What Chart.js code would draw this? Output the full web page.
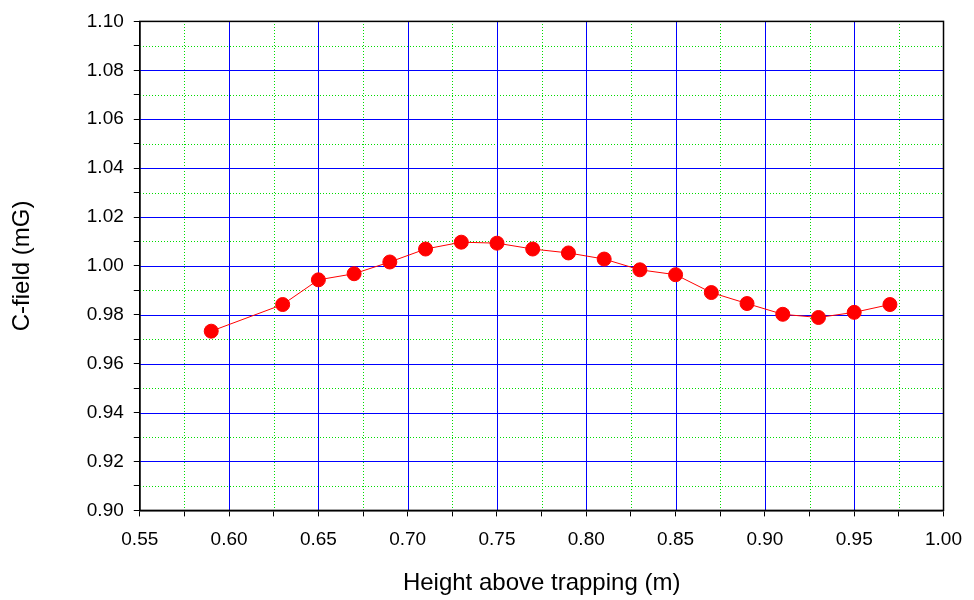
<!DOCTYPE html>
<html><head><meta charset="utf-8">
<script src="https://cdn.jsdelivr.net/npm/chart.js@4"></script>
<style>html,body{margin:0;background:#fff}#w{width:974px;height:600px}</style>
</head><body><div id="w"><canvas id="c"></canvas></div>
<script>
const heights=[0.59,0.63,0.65,0.67,0.69,0.71,0.73,0.75,0.77,0.79,0.81,0.83,0.85,0.87,0.89,0.91,0.93,0.95,0.97];
const cfield=[0.9733,0.9842,0.9943,0.9968,1.0016,1.0069,1.0097,1.0093,1.0069,1.0053,1.0028,0.9984,0.9964,0.9891,0.9846,0.9802,0.9789,0.9810,0.9842];
const xMin=0.55,xMax=1.00,xMajor=0.05,yMin=0.90,yMax=1.10,yMajor=0.02;
const isMajor=(v,s)=>Math.abs(v/s-Math.round(v/s))<1e-6;
const gridPlugin={id:'gp',beforeDatasetsDraw(ch){const {ctx,chartArea:a,scales:{x,y}}=ch;ctx.save();
 ctx.fillStyle='#00dd00';
 for(let i=0;i<9;i++){const p=Math.round(x.getPixelForValue(xMin+xMajor*(i+0.5)));for(let q=Math.round(a.top);q<a.bottom;q+=3)ctx.fillRect(p,q,1,1);}
 for(let i=0;i<10;i++){const p=Math.round(y.getPixelForValue(yMin+yMajor*(i+0.5)));for(let q=Math.round(a.left);q<a.right;q+=3)ctx.fillRect(q,p,1,1);}
 ctx.fillStyle='#0000ff';
 for(let i=1;i<9;i++){const p=Math.round(x.getPixelForValue(xMin+xMajor*i));ctx.fillRect(p,a.top,1,a.bottom-a.top);}
 for(let i=1;i<10;i++){const p=Math.round(y.getPixelForValue(yMin+yMajor*i));ctx.fillRect(a.left,p,a.right-a.left,1);}
 ctx.restore();},
 afterDraw(ch){const {ctx,chartArea:a}=ch;ctx.save();ctx.strokeStyle='#000';ctx.lineWidth=1.5;ctx.strokeRect(a.left,a.top,a.right-a.left,a.bottom-a.top);ctx.restore();}};
const F='Arial, Liberation Sans';
new Chart(document.getElementById('c'),{type:'scatter',
 data:{datasets:[{data:heights.map((h,i)=>({x:h,y:cfield[i]})),showLine:true,borderColor:'#ff0000',borderWidth:1,backgroundColor:'#ff0000',pointRadius:7,pointHoverRadius:7}]},
 options:{responsive:true,maintainAspectRatio:false,animation:false,layout:{padding:{top:13,right:22,left:8,bottom:2}},
  plugins:{legend:{display:false},tooltip:{enabled:false}},
  scales:{
   x:{type:'linear',min:xMin,max:xMax,ticks:{stepSize:0.025,autoSkip:false,maxRotation:0,padding:12,color:'#000',font:{family:F,size:19},callback:v=>isMajor(v,xMajor)?v.toFixed(2):''},
    grid:{color:'rgba(0,0,0,0)',tickColor:'#000',tickLength:6},border:{color:'#000',width:1.5},
    title:{display:true,text:'Height above trapping (m)',color:'#000',padding:{top:6,bottom:0},font:{family:F,size:24}}},
   y:{type:'linear',min:yMin,max:yMax,ticks:{stepSize:0.01,autoSkip:false,padding:10,color:'#000',font:{family:F,size:19},callback:v=>isMajor(v,yMajor)?v.toFixed(2):''},
    grid:{color:'rgba(0,0,0,0)',tickColor:'#000',tickLength:6},border:{color:'#000',width:1.5},
    title:{display:true,text:'C-field (mG)',color:'#000',padding:{top:0,bottom:40},font:{family:F,size:24}}}
  }},plugins:[gridPlugin]});
</script></body></html>
